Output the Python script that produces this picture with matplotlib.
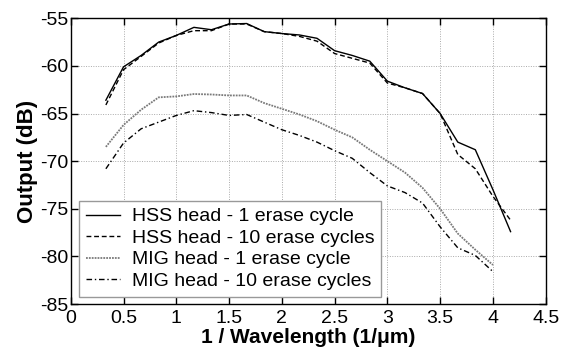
import numpy as np
import matplotlib
matplotlib.use('Agg')
import matplotlib.pyplot as plt

plt.rcParams['font.family'] = ['Liberation Sans', 'DejaVu Sans']
plt.rcParams['axes.unicode_minus'] = False

# --- data (x step 1/6 per 1/um) ---
x_hss = [0.333, 0.5, 0.667, 0.833, 1.0, 1.167, 1.333, 1.5, 1.667, 1.833, 2.0, 2.167,
         2.333, 2.5, 2.667, 2.833, 3.0, 3.167, 3.333, 3.5, 3.667, 3.833, 4.0, 4.167]
hss_1 = [-63.6, -60.1, -58.9, -57.5, -56.8, -55.95, -56.2, -55.6, -55.55, -56.4, -56.6, -56.75,
         -57.1, -58.4, -58.9, -59.5, -61.6, -62.3, -62.9, -65.0, -68.0, -68.8, -73.0, -77.4]
hss_10 = [-64.1, -60.4, -59.0, -57.6, -56.8, -56.3, -56.3, -55.6, -55.6, -56.4, -56.6, -56.9,
          -57.4, -58.7, -59.2, -59.7, -61.8, -62.3, -62.9, -65.0, -69.3, -70.8, -73.7, -76.2]

x_mig = x_hss[:-1]
mig_1 = [-68.5, -66.2, -64.6, -63.3, -63.2, -62.95, -63.0, -63.1, -63.1, -63.9, -64.5, -65.1,
         -65.8, -66.7, -67.5, -68.8, -70.0, -71.2, -72.8, -75.0, -77.6, -79.3, -80.9]
mig_10 = [-70.8, -68.1, -66.6, -65.9, -65.2, -64.7, -64.9, -65.2, -65.1, -65.9, -66.7, -67.3,
          -68.0, -68.9, -69.7, -71.2, -72.6, -73.3, -74.4, -76.9, -79.1, -79.9, -81.6]

labels = ['HSS head - 1 erase cycle', 'HSS head - 10 erase cycles',
          'MIG head - 1 erase cycle', 'MIG head - 10 erase cycles']

fig = plt.figure(figsize=(5.64, 3.54), dpi=100)
ax = fig.add_axes([0.1254, 0.1412, 0.8422, 0.8071])

ax.plot(x_hss, hss_1, color='black', lw=1.0, ls='-', label=labels[0])
ax.plot(x_hss, hss_10, color='black', lw=1.0, ls=(0, (3.5, 2)), label=labels[1])
ax.plot(x_mig, mig_1, color='#7a7a7a', lw=1.3, ls=(0, (1, 0.6)), label=labels[2])
ax.plot(x_mig, mig_10, color='black', lw=1.0, ls=(0, (4, 2, 1, 2)), label=labels[3])

ax.set_xlim(0, 4.5)
ax.set_ylim(-85, -55)
ax.set_xticks(np.arange(0, 4.51, 0.5))
ax.set_xticklabels(['0', '0.5', '1', '1.5', '2', '2.5', '3', '3.5', '4', '4.5'])
ax.set_yticks(np.arange(-85, -54, 5))

ax.grid(True, color='#aaaaaa', ls=(0, (1, 1.5)), lw=0.7)
ax.tick_params(direction='in', top=True, right=True, length=5, width=1,
               labelsize=14, pad=2)
ax.tick_params(axis='x', pad=4)
for s in ax.spines.values():
    s.set_linewidth(1.0)

ax.set_xlabel('1 / Wavelength (1/\u03bcm)', fontsize=15, fontweight='bold', labelpad=1)
ax.set_ylabel('Output (dB)', fontsize=16, fontweight='bold', labelpad=1)

leg = ax.legend(loc='lower left', bbox_to_anchor=(0.018, 0.0256), borderaxespad=0,
                fontsize=14, fancybox=False, framealpha=1, edgecolor='#999999',
                handlelength=1.75, handletextpad=0.6, labelspacing=0.2,
                borderpad=0.35)
leg.get_frame().set_linewidth(1.0)

fig.savefig('out.png', dpi=100)
